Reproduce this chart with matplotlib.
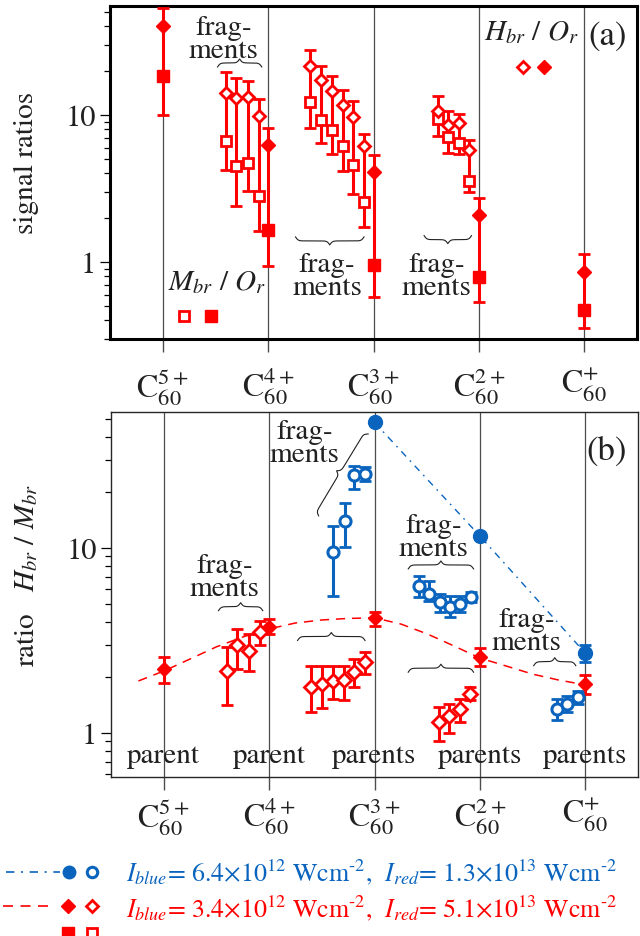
import numpy as np
import matplotlib
matplotlib.use('Agg')
import matplotlib.pyplot as plt
from matplotlib.ticker import FixedLocator, FixedFormatter, LogLocator, NullFormatter

plt.rcParams['font.family'] = ['STIXGeneral', 'Liberation Serif', 'DejaVu Serif']
plt.rcParams['mathtext.fontset'] = 'stix'

RED = '#ff0000'
BLUE = '#0a64be'
INK = '0.13'

charge_labels = [r'$\mathrm{C}_{60}^{5+}$', r'$\mathrm{C}_{60}^{4+}$', r'$\mathrm{C}_{60}^{3+}$',
                 r'$\mathrm{C}_{60}^{2+}$', r'$\mathrm{C}_{60}^{+}$']
parent_x = [0, 1, 2, 3, 4]

# (a) signal ratios, parents
hbr_par = [40, 6.2, 4.1, 2.07, 0.86]
hbr_par_hi = [53, 8.2, 5.3, 2.72, 1.13]
mbr_par = [18.4, 1.66, 0.96, 0.79, 0.47]
mbr_par_lo = [10.0, 0.94, 0.58, 0.53, 0.356]

# (a) fragments
frag_x_a = [0.60, 0.70, 0.81, 0.91, 1.40, 1.505, 1.61, 1.71, 1.81, 1.91, 2.61, 2.71, 2.81, 2.91]
hbr_frag = [14.2, 13.1, 13.3, 9.8, 21.6, 17.2, 14.6, 11.7, 9.7, 6.15, 10.7, 8.55, 8.77, 5.8]
hbr_frag_hi = [19.7, 17.9, 16.9, 12.8, 27.7, 21.5, 18.4, 14.7, 12.4, 7.4, 13.5, 10.6, 10.2, 6.76]
mbr_frag = [6.6, 4.5, 4.7, 2.8, 12.2, 9.3, 7.9, 6.15, 4.6, 2.57, 9.4, 7.05, 6.45, 3.57]
mbr_frag_lo = [4.25, 2.42, 3.03, 1.62, 8.2, 6.45, 5.4, 4.14, 2.92, 1.74, 7.2, 5.5, 5.43, 2.98]

# (b) ratio Hbr/Mbr, red pulses set
red_par = [2.22, 3.72, 4.17, 2.56, 1.84]
red_par_lo = [1.86, 3.43, 3.80, 2.29, 1.63]
red_par_hi = [2.56, 4.14, 4.49, 2.87, 2.05]
red_frag_x = [0.60, 0.70, 0.81, 0.91, 1.40, 1.505, 1.61, 1.71, 1.81, 1.91, 2.61, 2.71, 2.81, 2.91]
red_frag = [2.17, 2.97, 2.78, 3.50, 1.77, 1.84, 1.90, 1.93, 2.13, 2.41, 1.14, 1.24, 1.35, 1.63]
red_frag_lo = [1.41, 2.22, 2.17, 2.97, 1.29, 1.37, 1.53, 1.50, 1.77, 2.08, 0.91, 1.00, 1.14, 1.50]
red_frag_hi = [2.90, 3.65, 3.43, 4.05, 2.29, 2.30, 2.31, 2.31, 2.51, 2.73, 1.38, 1.43, 1.53, 1.77]
red_curve_x = [-0.24, 0, 0.25, 0.5, 0.75, 1, 1.25, 1.5, 1.75, 2, 2.25, 2.5, 2.75, 3, 3.25, 3.5, 3.75, 4]
red_curve_y = [1.91, 2.16, 2.51, 2.92, 3.30, 3.65, 3.93, 4.08, 4.16, 4.19, 3.88, 3.43, 2.96, 2.54, 2.30, 2.08, 1.93, 1.82]

# (b) blue pulses set
blue_par_x = [2, 3, 4]
blue_par = [47.7, 11.6, 2.70]
blue_par_lo = [47.7, 11.2, 2.41]
blue_par_hi = [47.7, 12.0, 2.97]
blue_frag_x = [1.61, 1.72, 1.81, 1.91, 2.42, 2.52, 2.62, 2.72, 2.81, 2.92, 3.73, 3.83, 3.93]
blue_frag = [9.5, 13.9, 24.8, 25.2, 6.25, 5.64, 5.08, 4.77, 4.98, 5.41, 1.35, 1.44, 1.56]
blue_frag_lo = [5.52, 10.1, 20.8, 23.1, 5.41, 5.19, 4.49, 4.22, 4.50, 5.08, 1.17, 1.29, 1.43]
blue_frag_hi = [13.2, 17.4, 27.8, 27.3, 7.08, 6.66, 5.64, 5.52, 5.52, 5.76, 1.53, 1.59, 1.69]


def err(y, lo, hi):
    y = np.array(y)
    return [y - np.array(lo), np.array(hi) - y]


def brace(ax, p0, p1, side=1, height=8.0):
    a = ax.transData.transform(p0)
    b = ax.transData.transform(p1)
    d = b - a
    L = np.hypot(*d)
    u = d / L
    n = np.array([-u[1], u[0]]) * side
    s = np.linspace(0, L / 2, 80)
    k = 0.75
    half = 1 / (1 + np.exp(-k * s)) + 1 / (1 + np.exp(-k * (s - L / 2))) - 0.5
    half = half - half[0]
    hgt = np.concatenate([half, half[-2::-1]]) * height
    ss = np.concatenate([s, L - s[-2::-1]])
    pts = a + np.outer(ss, u) + np.outer(hgt, n)
    dd = ax.transData.inverted().transform(pts)
    ax.plot(dd[:, 0], dd[:, 1], color=INK, lw=0.8, zorder=2)


def setup(ax, ylim, lw, pad):
    ax.set_yscale('log')
    ax.set_xlim(-0.5, 4.5)
    ax.set_ylim(*ylim)
    for xv in parent_x:
        ax.axvline(xv, color='0.3', lw=0.9, zorder=0)
    ax.xaxis.set_major_locator(FixedLocator(parent_x))
    ax.xaxis.set_major_formatter(FixedFormatter(charge_labels))
    ax.yaxis.set_major_locator(FixedLocator([1, 10]))
    ax.yaxis.set_major_formatter(FixedFormatter(['1', '10']))
    ax.yaxis.set_minor_locator(LogLocator(subs=np.arange(2, 10)))
    ax.yaxis.set_minor_formatter(NullFormatter())
    ax.tick_params(axis='x', direction='out', length=9, width=1, color='0.3',
                   labelsize=23, pad=pad, labelcolor=INK)
    ax.tick_params(axis='y', which='major', direction='out', length=7, width=0.9,
                   labelsize=22, pad=3, labelcolor=INK)
    ax.tick_params(axis='y', which='minor', direction='out', length=4, width=0.9)
    for sp in ax.spines.values():
        sp.set_linewidth(lw)
        sp.set_color('black' if lw > 1.5 else '0.15')


fig = plt.figure(figsize=(6.4, 9.37), dpi=100)
ax1 = fig.add_axes([110 / 640, 1 - 340 / 937, 527 / 640, 333 / 937])
ax2 = fig.add_axes([111 / 640, 1 - 778 / 937, 527 / 640, 365 / 937])
setup(ax1, (0.299, 55.1), 2.2, 10)
setup(ax2, (0.578, 54.3), 1.0, 4)

ekw = dict(fmt='none', elinewidth=2.2, capsize=4.5, capthick=2.0, zorder=3)
fs = 21

# ---- panel (a)
ax1.errorbar(parent_x, mbr_par, yerr=err(mbr_par, mbr_par_lo, hbr_par_hi), ecolor=RED, **ekw)
ax1.errorbar(frag_x_a, mbr_frag, yerr=err(mbr_frag, mbr_frag_lo, hbr_frag_hi), ecolor=RED, **ekw)
ax1.plot(frag_x_a, mbr_frag, 's', ms=7, mfc='white', mec=RED, mew=2, ls='none', zorder=4)
ax1.plot(frag_x_a, hbr_frag, 'D', ms=6, mfc='white', mec=RED, mew=2, ls='none', zorder=4)
ax1.plot(parent_x, mbr_par, 's', ms=8.5, color=RED, ls='none', zorder=4)
ax1.plot(parent_x, hbr_par, 'D', ms=7.5, color=RED, ls='none', zorder=4)

ax1.text(0.58, 32.9, 'frag-\nments', ha='center', va='center', fontsize=fs, color=INK, linespacing=0.9)
ax1.text(1.56, 0.80, 'frag-\nments', ha='center', va='center', fontsize=fs, color=INK, linespacing=0.9)
ax1.text(2.60, 0.80, 'frag-\nments', ha='center', va='center', fontsize=fs, color=INK, linespacing=0.9)
brace(ax1, (0.52, 21.2), (0.94, 21.2), side=1)
brace(ax1, (1.26, 1.48), (1.91, 1.48), side=-1)
brace(ax1, (2.48, 1.51), (2.93, 1.51), side=-1)

ax1.text(0.52, 0.73, r'$M_{br}$ / $O_r$', ha='center', va='center', fontsize=fs, color=INK)
ax1.plot([0.20], [0.43], 's', ms=7, mfc='white', mec=RED, mew=2)
ax1.plot([0.46], [0.43], 's', ms=8.5, color=RED)
ax1.text(3.50, 36.7, r'$H_{br}$ / $O_r$', ha='center', va='center', fontsize=fs, color=INK)
ax1.plot([3.42], [21.2], 'D', ms=6, mfc='white', mec=RED, mew=2)
ax1.plot([3.62], [21.2], 'D', ms=7.5, color=RED)
ax1.text(4.22, 34.4, '(a)', ha='center', va='center', fontsize=25, color=INK)

# ---- panel (b)
ax2.plot(red_curve_x, red_curve_y, color=RED, lw=1.1, dashes=(6, 4.5), zorder=2)
ax2.plot(blue_par_x, blue_par, color=BLUE, lw=1.0, dashes=(5, 4, 1.2, 4), zorder=2)

ax2.errorbar(red_frag_x, red_frag, yerr=err(red_frag, red_frag_lo, red_frag_hi), ecolor=RED, **ekw)
ax2.plot(red_frag_x, red_frag, 'D', ms=7, mfc='white', mec=RED, mew=2, ls='none', zorder=4)
ax2.errorbar(parent_x, red_par, yerr=err(red_par, red_par_lo, red_par_hi), ecolor=RED, **ekw)
ax2.plot(parent_x, red_par, 'D', ms=7.5, color=RED, ls='none', zorder=4)

ax2.errorbar(blue_frag_x, blue_frag, yerr=err(blue_frag, blue_frag_lo, blue_frag_hi), ecolor=BLUE, **ekw)
ax2.plot(blue_frag_x, blue_frag, 'o', ms=8, mfc='white', mec=BLUE, mew=2.2, ls='none', zorder=4)
ax2.errorbar(blue_par_x, blue_par, yerr=err(blue_par, blue_par_lo, blue_par_hi), ecolor=BLUE, **ekw)
ax2.plot(blue_par_x, blue_par, 'o', ms=10, color=BLUE, ls='none', zorder=4)

for tx, ty in [(0.58, 7.0), (1.34, 37.0), (2.56, 11.5), (3.44, 3.56)]:
    ax2.text(tx, ty, 'frag-\nments', ha='center', va='center', fontsize=fs, color=INK, linespacing=0.9)
brace(ax2, (0.52, 4.58), (0.94, 4.58), side=1)
brace(ax2, (1.27, 3.16), (1.91, 3.16), side=1)
brace(ax2, (2.32, 7.7), (2.94, 7.7), side=1)
brace(ax2, (2.32, 2.13), (2.94, 2.13), side=1)
brace(ax2, (3.51, 2.31), (3.91, 2.31), side=1)
brace(ax2, (1.47, 14.9), (1.94, 41.3), side=1)

for px, lab in zip(parent_x, ['parent', 'parent', 'parents', 'parents', 'parents']):
    ax2.text(px, 0.76, lab, ha='center', va='center', fontsize=fs, color=INK)
ax2.text(4.2, 33.6, '(b)', ha='center', va='center', fontsize=25, color=INK)

fig.text(0.042, 1 - 163 / 937, 'signal ratios', rotation=90, ha='center', va='center',
         fontsize=fs, color=INK)
fig.text(0.042, 1 - 575 / 937, r'ratio   $H_{br}$ / $M_{br}$', rotation=90, ha='center',
         va='center', fontsize=fs, color=INK)

# ---- legend strip (pixel units)
axl = fig.add_axes([0, 0, 1, 100 / 937])
axl.set_xlim(0, 640)
axl.set_ylim(0, 100)
axl.axis('off')
axl.plot([6, 60], [64, 64], color=BLUE, lw=1.2, dashes=(5, 4, 1.2, 4))
axl.plot([69], [64], 'o', ms=9, color=BLUE)
axl.plot([92], [64], 'o', ms=7.5, mfc='white', mec=BLUE, mew=2.2)
axl.plot([3, 55], [30, 30], color=RED, lw=1.2, dashes=(6, 4.5))
axl.plot([68], [30], 'D', ms=7.5, color=RED)
axl.plot([92], [30], 'D', ms=6, mfc='white', mec=RED, mew=2)
axl.plot([68], [3], 's', ms=8, color=RED)
axl.plot([92], [3], 's', ms=7, mfc='white', mec=RED, mew=2)
axl.text(126, 64, '$I_{blue}$= 6.4×10$^{12}$ Wcm$^{\u20102}$,  $I_{red}$= 1.3×10$^{13}$ Wcm$^{\u20102}$',
         ha='left', va='center', fontsize=18.6, color=BLUE)
axl.text(126, 28, '$I_{blue}$= 3.4×10$^{12}$ Wcm$^{\u20102}$,  $I_{red}$= 5.1×10$^{13}$ Wcm$^{\u20102}$',
         ha='left', va='center', fontsize=18.6, color=RED)

fig.savefig('out.png', dpi=100)
